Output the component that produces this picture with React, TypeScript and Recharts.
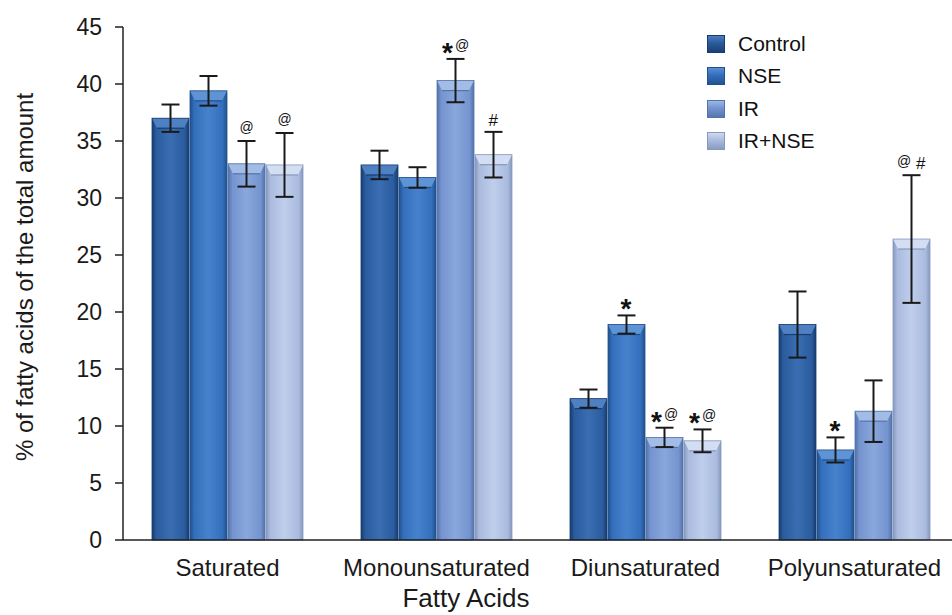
import { Bar, BarChart, ErrorBar, LabelList, Legend, XAxis, YAxis } from 'recharts'

const categories = ['Saturated', 'Monounsaturated', 'Diunsaturated', 'Polyunsaturated']
const yTicks = [0, 5, 10, 15, 20, 25, 30, 35, 40, 45]

const control = [37.0, 32.9, 12.4, 18.9]
const controlErr = [1.2, 1.25, 0.8, 2.9]
const nse = [39.4, 31.8, 18.9, 7.9]
const nseErr = [1.3, 0.9, 0.8, 1.1]
const ir = [33.0, 40.3, 9.0, 11.3]
const irErr = [2.0, 1.9, 0.85, 2.7]
const irNse = [32.9, 33.8, 8.7, 26.4]
const irNseErr = [2.8, 2.0, 1.0, 5.6]

// significance marks above the error bars
const controlNote = ['', '', '', '']
const nseNote = ['', '', '*', '*']
const irNote = ['@', '*@', '*@', '']
const irNseNote = ['@', '#', '*@', '@#']

const data = categories.map((name, i) => ({
  name,
  control: control[i],
  controlErr: controlErr[i],
  nse: nse[i],
  nseErr: nseErr[i],
  ir: ir[i],
  irErr: irErr[i],
  irNse: irNse[i],
  irNseErr: irNseErr[i],
}))

const SERIES = [
  { key: 'control', name: 'Control', values: control, errs: controlErr, notes: controlNote,
    dark: '#173d70', mid: '#2a5c9e', light: '#3a6eb2', cap: '#4f80c2' },
  { key: 'nse', name: 'NSE', values: nse, errs: nseErr, notes: nseNote,
    dark: '#22508c', mid: '#336fbc', light: '#4682cc', cap: '#5e94d6' },
  { key: 'ir', name: 'IR', values: ir, errs: irErr, notes: irNote,
    dark: '#5373aa', mid: '#7594d0', light: '#88a7dc', cap: '#a2bce6' },
  { key: 'irNse', name: 'IR+NSE', values: irNse, errs: irNseErr, notes: irNseNote,
    dark: '#8798bf', mid: '#aabbdf', light: '#bfceeb', cap: '#d3def2' },
]

const FONT = '"Liberation Sans", Arial, sans-serif'

function BevelBar(props: any) {
  const { x, y, width, height, idx } = props
  if (!height || height <= 0) return null
  const s = SERIES[idx]
  const capH = Math.min(10, height)
  return (
    <g>
      <rect x={x} y={y} width={width} height={height} fill={`url(#bar-${idx})`} />
      <polygon
        points={`${x},${y} ${x + width},${y} ${x + width - 5},${y + capH} ${x + 5},${y + capH}`}
        fill={s.cap}
      />
      <line x1={x + 5} y1={y + capH} x2={x + width - 5} y2={y + capH} stroke={s.dark} strokeWidth={1.2} />
      <rect x={x} y={y} width={width} height={height} fill="none" stroke={s.dark} strokeWidth={0.8} />
    </g>
  )
}

const GLYPH: Record<string, { size: number; w: number; dy: number; weight?: string }> = {
  '*': { size: 28, w: 12, dy: 3, weight: 'bold' },
  '@': { size: 14, w: 14, dy: -9 },
  '#': { size: 17, w: 10, dy: -6 },
}

function renderNote(p: any, idx: number) {
  const s = SERIES[idx]
  const i = p.index
  const note = s.notes[i]
  if (!note) return null
  const { x, y, width, height } = p
  const pxPerUnit = height / s.values[i]
  const errTop = y - s.errs[i] * pxPerUnit
  const chars = note.split('')
  const gap = note === '@#' ? 5 : 1
  const total = chars.reduce((sum, c) => sum + GLYPH[c].w, 0) + gap * (chars.length - 1)
  let cx = x + width / 2 - total / 2
  return (
    <g key={`n-${idx}-${i}`}>
      {chars.map((c, k) => {
        const g = GLYPH[c]
        const el = (
          <text key={k} x={cx} y={errTop + g.dy} fontSize={g.size} fontWeight={g.weight} fill="#111" fontFamily={FONT}>
            {c}
          </text>
        )
        cx += g.w + gap
        return el
      })}
    </g>
  )
}

function LegendBox() {
  return (
    <div style={{ fontFamily: FONT, fontSize: 21, color: '#111' }}>
      {SERIES.map((s) => (
        <div key={s.key} style={{ display: 'flex', alignItems: 'center', height: 32.3 }}>
          <span
            style={{
              width: 18,
              height: 18,
              marginRight: 13,
              background: `linear-gradient(180deg, ${s.cap} 0%, ${s.mid} 45%, ${s.dark} 100%)`,
              boxShadow: `inset 0 0 0 1px ${s.dark}`,
            }}
          />
          <span>{s.name}</span>
        </div>
      ))}
    </div>
  )
}

export default function App() {
  return (
    <div style={{ position: 'absolute', left: 0, top: 0, width: 952, height: 615, overflow: 'hidden', background: '#fff' }}>
      <BarChart
        width={975}
        height={615}
        data={data}
        margin={{ top: 27, right: 16, bottom: 15, left: 0 }}
        barCategoryGap={29}
        barGap={1}
      >
        <defs>
          {SERIES.map((s, i) => (
            <linearGradient key={s.key} id={`bar-${i}`} x1="0" y1="0" x2="1" y2="0">
              <stop offset="0%" stopColor={s.dark} />
              <stop offset="12%" stopColor={s.mid} />
              <stop offset="50%" stopColor={s.light} />
              <stop offset="88%" stopColor={s.mid} />
              <stop offset="100%" stopColor={s.dark} />
            </linearGradient>
          ))}
        </defs>
        <XAxis
          dataKey="name"
          height={60}
          tickLine={false}
          tickSize={6}
          tickMargin={13}
          axisLine={{ stroke: '#222', strokeWidth: 1.5 }}
          tick={{ fontSize: 24, fill: '#1a1a1a', fontFamily: FONT }}
          label={{
            content: () => (
              <text x={466} y={607} textAnchor="middle" fontSize={26} fill="#1a1a1a" fontFamily={FONT}>
                Fatty Acids
              </text>
            ),
          }}
        />
        <YAxis
          width={123}
          domain={[0, 45]}
          ticks={yTicks}
          interval={0}
          tickSize={8}
          tickMargin={13}
          axisLine={{ stroke: '#222', strokeWidth: 1.5 }}
          tickLine={{ stroke: '#222', strokeWidth: 1.5 }}
          tick={{ fontSize: 23, fill: '#1a1a1a', fontFamily: FONT }}
          label={{
            content: () => (
              <text
                x={24}
                y={277}
                transform="rotate(-90 24 277)"
                textAnchor="middle"
                dominantBaseline="central"
                fontSize={24}
                fill="#1a1a1a"
                fontFamily={FONT}
              >
                % of fatty acids of the total amount
              </text>
            ),
          }}
        />
        <Legend
          layout="horizontal"
          align="center"
          verticalAlign="middle"
          content={() => <LegendBox />}
          wrapperStyle={{ left: 707, top: 28, width: 200 }}
        />
        {SERIES.map((s, idx) => (
          <Bar
            key={s.key}
            dataKey={s.key}
            name={s.name}
            fill={s.mid}
            isAnimationActive={false}
            shape={(p: any) => <BevelBar {...p} idx={idx} />}
          >
            <ErrorBar dataKey={`${s.key}Err`} width={9} strokeWidth={2} stroke="#1a1a1a" direction="y" />
            <LabelList dataKey={s.key} content={(p: any) => renderNote(p, idx)} />
          </Bar>
        ))}
      </BarChart>
    </div>
  )
}
